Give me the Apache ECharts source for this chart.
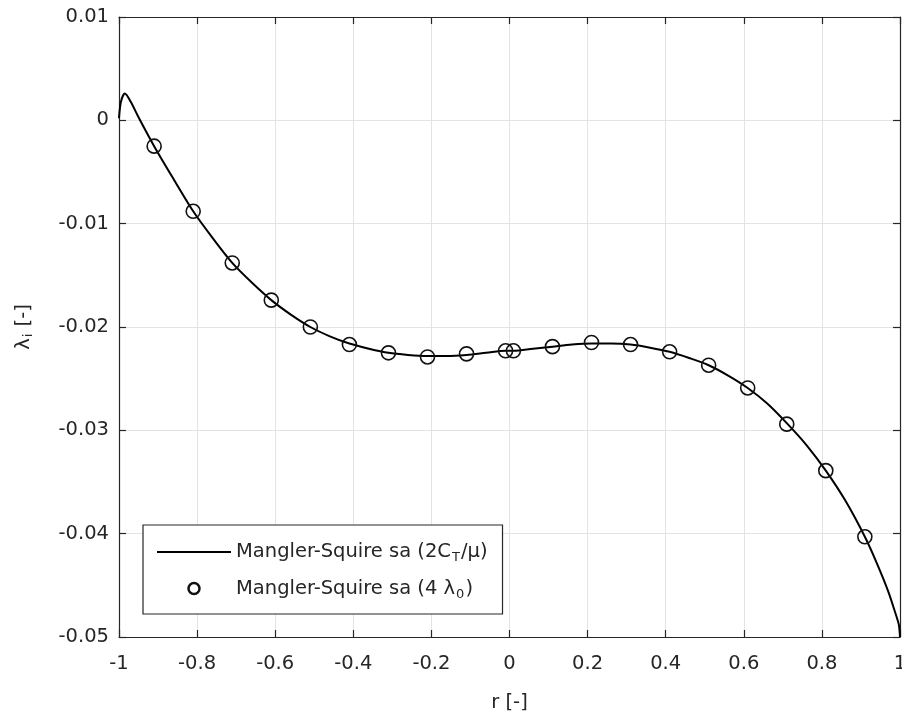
<!DOCTYPE html>
<html><head><meta charset="utf-8">
<script src="https://cdn.jsdelivr.net/npm/echarts@6/dist/echarts.min.js"></script>
<style>html,body{margin:0;padding:0;background:#fff;overflow:hidden}#c{width:902px;height:716px}</style>
</head><body><div id="c"></div>
<script>
// Solid curve (2C_T/mu)
const lineR = [-1.0, -0.995, -0.985, -0.97, -0.95, -0.91, -0.86, -0.81, -0.76, -0.71, -0.66, -0.61, -0.56, -0.51, -0.46, -0.41, -0.36, -0.31, -0.26, -0.21, -0.16, -0.11, -0.06, -0.01, 0.01, 0.06, 0.11, 0.16, 0.21, 0.26, 0.31, 0.36, 0.41, 0.46, 0.51, 0.56, 0.61, 0.66, 0.71, 0.76, 0.81, 0.86, 0.91, 0.94, 0.97, 0.99, 0.997, 1.0];
const lineL = [0.0002, 0.0018, 0.0026, 0.0018, 0.0003, -0.0025, -0.0057, -0.0088, -0.0114, -0.0138, -0.0157, -0.0174, -0.0188, -0.0200, -0.0209, -0.0216, -0.0221, -0.0225, -0.0227, -0.0228, -0.0228, -0.0227, -0.0225, -0.0223, -0.0223, -0.0221, -0.0219, -0.0217, -0.0216, -0.0216, -0.0217, -0.0220, -0.0224, -0.0230, -0.0237, -0.0247, -0.0259, -0.0274, -0.0293, -0.0314, -0.0339, -0.0368, -0.0403, -0.0428, -0.0456, -0.0479, -0.0488, -0.0500];
// Circle markers (4 lambda_0)
const markR = [-0.91, -0.81, -0.71, -0.61, -0.51, -0.41, -0.31, -0.21, -0.11, -0.01, 0.01, 0.11, 0.21, 0.31, 0.41, 0.51, 0.61, 0.71, 0.81, 0.91];
const markL = [-0.0025, -0.0088, -0.0138, -0.0174, -0.0200, -0.0217, -0.0225, -0.0229, -0.0226, -0.0223, -0.0223, -0.0219, -0.0215, -0.0217, -0.0224, -0.0237, -0.0259, -0.0294, -0.0339, -0.0403];
const seriesNames = ['Mangler-Squire sa (2CT/mu)', 'Mangler-Squire sa (4 lambda0)'];
const legendRich = {
  [seriesNames[0]]: '{t|Mangler-Squire sa (2C}{s|T}{t|/μ)}',
  [seriesNames[1]]: '{t|Mangler-Squire sa (4 λ}{s|0}{t|)}'
};
const xTicks = [-1, -0.8, -0.6, -0.4, -0.2, 0, 0.2, 0.4, 0.6, 0.8, 1];
const yTicks = [0.01, 0, -0.01, -0.02, -0.03, -0.04, -0.05];

const FONT = 'DejaVu Sans, Liberation Sans, sans-serif';
const TXT = '#262626';
const FS = 19.5;
const chart = echarts.init(document.getElementById('c'));
const axisCommon = () => ({
  axisLine: {show: true, onZero: false, lineStyle: {color: TXT, width: 1.2}},
  axisTick: {show: true, inside: true, length: 7, lineStyle: {color: TXT, width: 1.2}},
});
chart.setOption({
  animation: false,
  backgroundColor: '#fff',
  grid: {left: 119, top: 17, width: 781, height: 620, containLabel: false, outerBoundsMode: 'none'},
  xAxis: [
    Object.assign({type: 'value', min: -1, max: 1, interval: 0.2, position: 'bottom',
      axisLabel: {color: TXT, fontFamily: FONT, fontSize: FS, margin: 17,
        formatter: v => { const r = Math.round(v*10)/10; return String(r); }},
      splitLine: {show: true, lineStyle: {color: '#e3e3e3', width: 1}},
      name: 'r [-]', nameLocation: 'middle', nameGap: 56,
      nameTextStyle: {color: TXT, fontFamily: FONT, fontSize: FS}}, axisCommon()),
    Object.assign({type: 'value', min: -1, max: 1, interval: 0.2, position: 'top',
      axisLabel: {show: false}, splitLine: {show: false}}, axisCommon())
  ],
  yAxis: [
    Object.assign({type: 'value', min: -0.05, max: 0.01, interval: 0.01, position: 'left',
      axisLabel: {color: TXT, fontFamily: FONT, fontSize: FS, margin: 10,
        formatter: v => { const r = Math.round(v*100)/100; return String(r); }},
      splitLine: {show: true, lineStyle: {color: '#e3e3e3', width: 1}},
      name: '{t|λ}{s|i}{t| [-]}', nameLocation: 'middle', nameGap: 84, nameRotate: 90,
      nameTextStyle: {color: TXT, fontFamily: FONT, fontSize: FS,
        rich: {t: {fontFamily: FONT, fontSize: FS, color: TXT},
               s: {fontFamily: FONT, fontSize: 13, color: TXT, padding: [10,1,0,1]}}}}, axisCommon()),
    Object.assign({type: 'value', min: -0.05, max: 0.01, interval: 0.01, position: 'right',
      axisLabel: {show: false}, splitLine: {show: false}}, axisCommon())
  ],
  legend: {
    orient: 'vertical', left: 143, top: 525,
    backgroundColor: '#fff', borderColor: TXT, borderWidth: 1.2,
    padding: [17, 15, 13, 13], itemGap: 14, itemWidth: 74, itemHeight: 11,
    data: [
      {name: seriesNames[0], itemStyle: {color: 'rgba(0,0,0,0)', borderWidth: 0, opacity: 0}},
      {name: seriesNames[1], icon: 'circle', itemStyle: {color: 'rgba(0,0,0,0)', borderColor: '#111', borderWidth: 2.5}}
    ],
    formatter: n => legendRich[n],
    textStyle: {color: TXT, fontFamily: FONT, fontSize: FS,
      rich: {t: {fontFamily: FONT, fontSize: FS, color: TXT, lineHeight: 24},
             s: {fontFamily: FONT, fontSize: 13, color: TXT, padding: [12, 1, 0, 1]}}}
  },
  series: [
    {name: seriesNames[0], type: 'line', xAxisIndex: 0, yAxisIndex: 0, symbol: 'none', smooth: 0.3,
      lineStyle: {color: '#000', width: 2}, itemStyle: {color: '#000'},
      data: lineR.map((r, i) => [r, lineL[i]]), z: 3},
    {name: seriesNames[1], type: 'scatter', xAxisIndex: 0, yAxisIndex: 0, symbol: 'circle', symbolSize: 14,
      itemStyle: {color: 'rgba(0,0,0,0)', borderColor: '#111', borderWidth: 1.6, opacity: 1},
      data: markR.map((r, i) => [r, markL[i]]), z: 4}
  ]
});
</script></body></html>
